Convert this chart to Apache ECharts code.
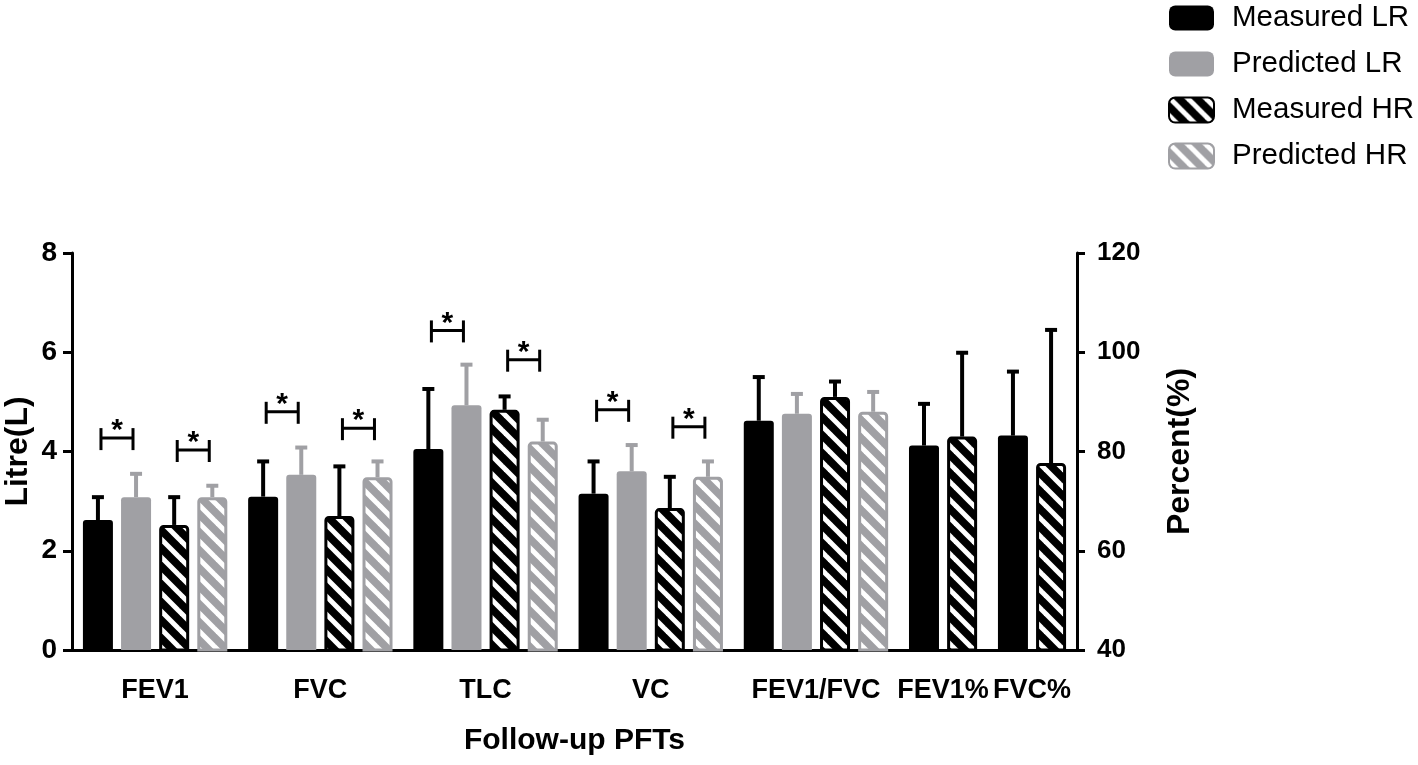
<!DOCTYPE html>
<html>
<head>
<meta charset="utf-8">
<script src="https://cdn.jsdelivr.net/npm/echarts@6/dist/echarts.min.js"></script>
<style>
html,body{margin:0;padding:0;background:#fff;}
#chart{width:1418px;height:765px;}
</style>
</head>
<body>
<div id="chart"></div>
<script>
// ---------------- DATA ----------------
const groups = ['FEV1', 'FVC', 'TLC', 'VC', 'FEV1/FVC', 'FEV1%', 'FVC%'];
const groupAxis = [0, 0, 0, 0, 1, 1, 1]; // 0 = Litre(L), 1 = Percent(%)
const seriesNames = ['Measured LR', 'Predicted LR', 'Measured HR', 'Predicted HR'];

const measuredLR   = [2.62, 3.09, 4.05, 3.15, 86.2, 81.2, 83.2];
const measuredLRsd = [0.46, 0.71, 1.21, 0.65, 8.8, 8.4, 12.9];
const predictedLR   = [3.08, 3.53, 4.93, 3.60, 87.6, null, null];
const predictedLRsd = [0.47, 0.55, 0.82, 0.53, 4.0, null, null];
const measuredHR   = [2.52, 2.70, 4.84, 2.86, 91.0, 83.0, 77.7];
const measuredHRsd = [0.56, 1.00, 0.27, 0.63, 3.1, 16.9, 26.8];
const predictedHR   = [3.08, 3.48, 4.20, 3.49, 88.0, null, null];
const predictedHRsd = [0.23, 0.32, 0.44, 0.31, 4.0, null, null];

// significance brackets (height in litres): LR pair and HR pair
const sigLR = [4.27, 4.80, 6.44, 4.84, null, null, null];
const sigHR = [4.03, 4.47, 5.85, 4.50, null, null, null];

const leftTicks = [0, 2, 4, 6, 8];
const rightTicks = [40, 60, 80, 100, 120];

// ---------------- LAYOUT / STYLE ----------------
const FONT = 'Liberation Sans, Arial, sans-serif';
const BLACK = '#000000';
const GRAY = '#a0a0a4';
const GROUP_GAP = 1 / 3;   // extra gap between groups (in bar slots)
const BAR_W = 0.787;       // bar width in slots
const EDGE = 0.68;         // space between axis and outer bar centre

function hatch(bg) {
  const s = 18;
  const c = document.createElement('canvas');
  c.width = s; c.height = s;
  const ctx = c.getContext('2d');
  ctx.fillStyle = bg; ctx.fillRect(0, 0, s, s);
  ctx.strokeStyle = '#ffffff'; ctx.lineWidth = 5;
  for (const o of [-s, 0, s]) {
    ctx.beginPath(); ctx.moveTo(o - 6, -6); ctx.lineTo(o + s + 6, s + 6); ctx.stroke();
  }
  return { image: c, repeat: 'repeat' };
}

const values = [measuredLR, predictedLR, measuredHR, predictedHR];
const sds = [measuredLRsd, predictedLRsd, measuredHRsd, predictedHRsd];
const baseColors = [BLACK, GRAY, BLACK, GRAY];
const hatched = [false, false, true, true];
const fills = baseColors.map((c, i) => hatched[i] ? hatch(c) : c);

// slot positions of bars
const barPos = values.map(() => []);
const groupCenter = [];
let slot = 0;
groups.forEach((g, gi) => {
  const start = slot + gi * GROUP_GAP;
  let k = 0;
  values.forEach((arr, si) => {
    if (arr[gi] != null) { barPos[si][gi] = start + k; k++; }
  });
  groupCenter.push(start + (k - 1) / 2);
  slot += k;
});
const lastPos = slot - 1 + (groups.length - 1) * GROUP_GAP;

function makeRender(si) {
  const color = baseColors[si];
  const fill = fills[si];
  const isH = hatched[si];
  return function (params, api) {
    const x = api.value(0), v = api.value(1), sd = api.value(2);
    const top = api.coord([x, v]);
    const cap = api.coord([x, v + sd]);
    const w = api.size([BAR_W, 0])[0];
    const base = params.coordSys.y + params.coordSys.height;
    const inset = isH ? 1.5 : 0;
    return {
      type: 'group',
      children: [
        { type: 'line', shape: { x1: top[0], y1: top[1], x2: top[0], y2: cap[1] },
          style: { stroke: color, lineWidth: 4 } },
        { type: 'line', shape: { x1: top[0] - 6, y1: cap[1], x2: top[0] + 6, y2: cap[1] },
          style: { stroke: color, lineWidth: 4 } },
        { type: 'rect',
          shape: { x: top[0] - w / 2 + inset, y: top[1] + inset, width: w - 2 * inset,
                   height: base - top[1] - inset, r: [3, 3, 0, 0] },
          style: { fill: fill, stroke: isH ? color : null, lineWidth: isH ? 3 : 0 } }
      ]
    };
  };
}

const series = [];
seriesNames.forEach((name, si) => {
  [0, 1].forEach(ax => {
    const data = [];
    groups.forEach((g, gi) => {
      if (groupAxis[gi] === ax && values[si][gi] != null) {
        data.push([barPos[si][gi], values[si][gi], sds[si][gi]]);
      }
    });
    series.push({
      name: name, type: 'custom', yAxisIndex: ax, xAxisIndex: 0,
      itemStyle: { color: fills[si] },
      encode: { x: 0, y: 1 },
      renderItem: makeRender(si),
      data: data, z: 2, silent: true
    });
  });
});

// significance brackets
const sigData = [];
groups.forEach((g, gi) => {
  if (sigLR[gi] != null) sigData.push([barPos[0][gi], barPos[1][gi], sigLR[gi]]);
  if (sigHR[gi] != null) sigData.push([barPos[2][gi], barPos[3][gi], sigHR[gi]]);
});
series.push({
  name: 'sig', type: 'custom', yAxisIndex: 0, silent: true, z: 3,
  encode: { x: 0, y: 2 },
  renderItem: function (params, api) {
    const inset = 0.08;
    const p1 = api.coord([api.value(0) + inset, api.value(2)]);
    const p2 = api.coord([api.value(1) - inset, api.value(2)]);
    const y = p1[1];
    return {
      type: 'group',
      children: [
        { type: 'polyline', shape: { points: [[p1[0], y], [p2[0], y]] }, style: { stroke: '#000', lineWidth: 3, fill: null } },
        { type: 'line', shape: { x1: p1[0], y1: y - 10, x2: p1[0], y2: y + 12 }, style: { stroke: '#000', lineWidth: 3 } },
        { type: 'line', shape: { x1: p2[0], y1: y - 10, x2: p2[0], y2: y + 12 }, style: { stroke: '#000', lineWidth: 3 } },
        { type: 'text', style: { text: '*', x: (p1[0] + p2[0]) / 2, y: y - 7, fill: '#000',
          font: 'bold 30px ' + FONT, align: 'center', verticalAlign: 'middle' } }
      ]
    };
  },
  data: sigData
});

const nameStyle = { color: '#000', fontSize: 30, fontWeight: 'bold', fontFamily: FONT };
const yNameStyle = { color: '#000', fontSize: 32, fontWeight: 'bold', fontFamily: FONT };

const option = {
  animation: false,
  backgroundColor: '#ffffff',
  grid: { left: 72, right: 341, top: 253, bottom: 115, containLabel: false, outerBoundsMode: 'none' },
  legend: {
    orient: 'vertical', left: 1168, top: 3, padding: 0, itemWidth: 45, itemHeight: 25, itemGap: 16,
    icon: 'roundRect', selectedMode: false,
    textStyle: { fontSize: 29.5, fontFamily: FONT, color: '#000', padding: [0, 0, 0, 13] },
    data: seriesNames.map((n, i) => ({
      name: n,
      itemStyle: { color: fills[i], borderColor: baseColors[i], borderWidth: hatched[i] ? 2 : 0 }
    }))
  },
  xAxis: {
    type: 'value', min: -EDGE, max: lastPos + EDGE,
    axisLine: { show: true, onZero: false, lineStyle: { color: '#000', width: 3 } },
    axisTick: { show: false },
    splitLine: { show: false },
    axisLabel: {
      customValues: groupCenter, margin: 27,
      color: '#000', fontSize: 27, fontWeight: 'bold', fontFamily: FONT,
      formatter: function (val) {
        const i = groupCenter.findIndex(c => Math.abs(c - val) < 1e-6);
        return i >= 0 ? groups[i] : '';
      }
    },
    name: 'Follow-up PFTs', nameLocation: 'middle', nameGap: 76, nameTextStyle: nameStyle
  },
  yAxis: [
    {
      type: 'value', position: 'left',
      min: leftTicks[0], max: leftTicks[leftTicks.length - 1], interval: leftTicks[1] - leftTicks[0],
      axisLine: { show: true, onZero: false, lineStyle: { color: '#000', width: 3 } },
      axisTick: { show: true, length: 9, lineStyle: { color: '#000', width: 3 } },
      axisLabel: { margin: 15, color: '#000', fontSize: 28, fontWeight: 'bold', fontFamily: FONT },
      splitLine: { show: false },
      name: 'Litre(L)', nameLocation: 'middle', nameGap: 38, nameMoveOverlap: false, nameTextStyle: yNameStyle
    },
    {
      type: 'value', position: 'right',
      min: rightTicks[0], max: rightTicks[rightTicks.length - 1], interval: rightTicks[1] - rightTicks[0],
      axisLine: { show: true, onZero: false, lineStyle: { color: '#000', width: 3 } },
      axisTick: { show: true, length: 8, lineStyle: { color: '#000', width: 3 } },
      axisLabel: { margin: 20, color: '#000', fontSize: 26, fontWeight: 'bold', fontFamily: FONT },
      splitLine: { show: false },
      name: 'Percent(%)', nameLocation: 'middle', nameGap: 87, nameRotate: 90, nameTextStyle: yNameStyle
    }
  ],
  series: series
};

const chart = echarts.init(document.getElementById('chart'), null, { renderer: 'canvas' });
chart.setOption(option);
</script>
</body>
</html>
